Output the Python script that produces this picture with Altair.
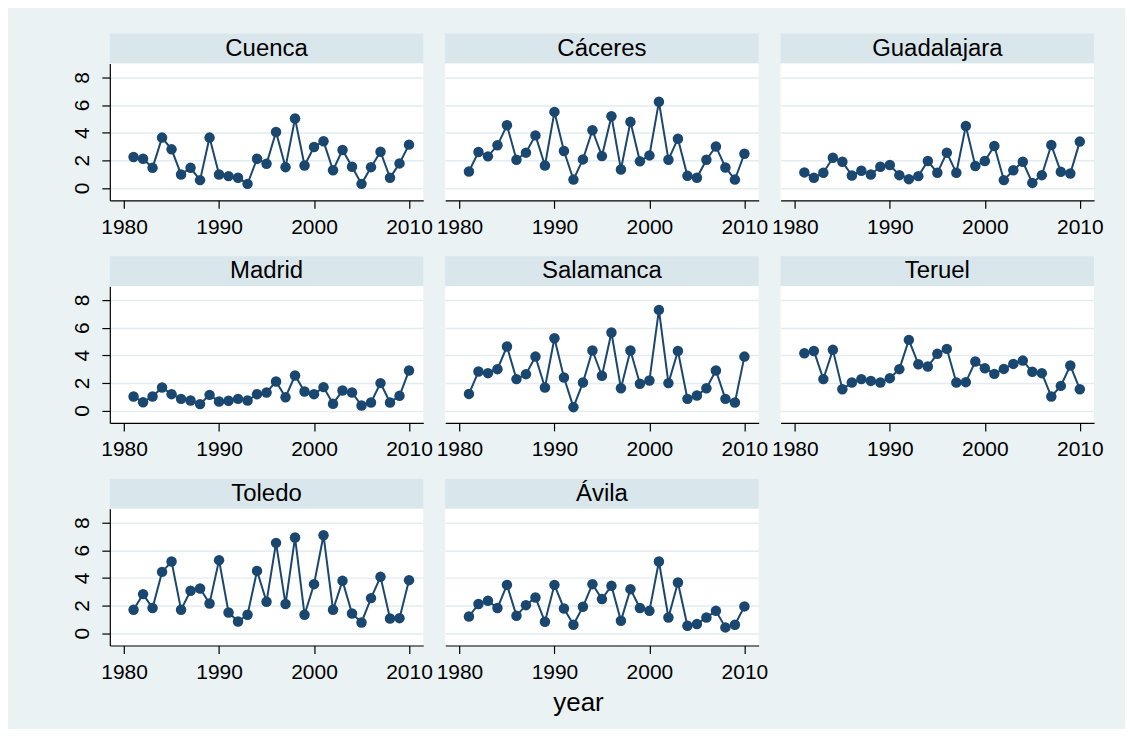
import altair as alt
import pandas as pd

years = list(range(1981, 2011))

cuenca = [2.23, 2.11, 1.45, 3.64, 2.79, 0.97, 1.45, 0.56, 3.64, 0.97,
          0.85, 0.73, 0.29, 2.11, 1.75, 4.05, 1.50, 5.02, 1.62, 2.96,
          3.37, 1.28, 2.74, 1.53, 0.29, 1.50, 2.62, 0.73, 1.77, 3.13]
caceres = [1.19, 2.60, 2.28, 3.08, 4.53, 2.04, 2.55, 3.80, 1.62, 5.50,
           2.67, 0.60, 2.06, 4.17, 2.30, 5.19, 1.33, 4.78, 1.92, 2.35,
           6.23, 2.04, 3.56, 0.87, 0.73, 2.04, 3.00, 1.48, 0.60, 2.47]
guadalajara = [1.12, 0.73, 1.09, 2.18, 1.89, 0.90, 1.24, 0.97, 1.53, 1.65,
               0.92, 0.63, 0.85, 1.94, 1.09, 2.55, 1.09, 4.48, 1.58, 1.94,
               3.03, 0.56, 1.28, 1.89, 0.36, 0.92, 3.10, 1.16, 1.04, 3.35]
madrid = [1.01, 0.60, 1.01, 1.66, 1.18, 0.84, 0.72, 0.46, 1.13, 0.65,
          0.70, 0.84, 0.72, 1.18, 1.30, 2.10, 0.96, 2.53, 1.37, 1.18,
          1.69, 0.48, 1.45, 1.30, 0.36, 0.58, 1.98, 0.58, 1.06, 2.89]
salamanca = [1.20, 2.82, 2.70, 2.99, 4.63, 2.27, 2.63, 3.90, 1.66, 5.23,
             2.39, 0.24, 2.02, 4.34, 2.51, 5.64, 1.61, 4.34, 1.93, 2.17,
             7.28, 1.98, 4.31, 0.84, 1.08, 1.61, 2.89, 0.84, 0.58, 3.90]
teruel = [4.14, 4.31, 2.27, 4.39, 1.54, 2.02, 2.27, 2.14, 2.02, 2.34,
          2.99, 5.11, 3.35, 3.18, 4.10, 4.46, 2.02, 2.05, 3.54, 3.06,
          2.65, 3.01, 3.37, 3.61, 2.80, 2.70, 1.01, 1.78, 3.25, 1.54]
toledo = [1.69, 2.82, 1.81, 4.43, 5.18, 1.69, 3.06, 3.23, 2.14, 5.28,
          1.49, 0.84, 1.33, 4.50, 2.27, 6.53, 2.10, 6.92, 1.33, 3.54,
          7.08, 1.69, 3.78, 1.42, 0.77, 2.53, 4.07, 1.06, 1.08, 3.83]
avila = [1.20, 2.10, 2.34, 1.81, 3.49, 1.25, 2.02, 2.58, 0.82, 3.49,
         1.78, 0.60, 1.90, 3.54, 2.46, 3.42, 0.89, 3.18, 1.81, 1.61,
         5.18, 1.13, 3.66, 0.53, 0.65, 1.13, 1.61, 0.41, 0.60, 1.93]

provinces = ["Cuenca", "Cáceres", "Guadalajara", "Madrid", "Salamanca",
             "Teruel", "Toledo", "Ávila"]
series = [cuenca, caceres, guadalajara, madrid, salamanca, teruel, toledo, avila]

x_ticks = [1980, 1990, 2000, 2010]
y_ticks = [0, 2, 4, 6, 8]

BG = "#EAF2F3"
STRIP = "#D9E6EB"
NAVY = "#1A476F"
GRID = "#E3ECEF"
FONT = "Liberation Sans"
PW, PH, SH = 314, 137, 30


def panel(name, values, first_col):
    df = pd.DataFrame({"year": years, "value": values})
    if first_col:
        yaxis = alt.Axis(values=y_ticks, title=None, labelAngle=-90,
                         labelAlign="center", labelBaseline="bottom",
                         labelPadding=9, tickSize=8, grid=True)
    else:
        yaxis = alt.Axis(values=y_ticks, title=None, labels=False,
                         ticks=False, domain=False, grid=True)
    base = alt.Chart(df).encode(
        x=alt.X("year:Q",
                scale=alt.Scale(domain=[1978.5, 2011.5], nice=False, zero=False),
                axis=alt.Axis(values=x_ticks, format="d", title=None,
                              grid=False, tickSize=8, labelPadding=8,
                              labelFlush=False)),
        y=alt.Y("value:Q",
                scale=alt.Scale(domain=[-0.9, 9.0], nice=False, zero=False),
                axis=yaxis),
    )
    plot = alt.layer(
        base.mark_line(color=NAVY, strokeWidth=2),
        base.mark_circle(color=NAVY, size=110, opacity=1),
    ).properties(width=PW, height=PH,
                 view=alt.ViewBackground(fill="white", stroke=None))
    strip = alt.Chart(pd.DataFrame({"t": [name]})).mark_text(
        font=FONT, fontSize=24, color="black"
    ).encode(text="t:N").properties(
        width=PW, height=SH,
        view=alt.ViewBackground(fill=STRIP, stroke=None))
    return alt.vconcat(strip, plot, spacing=0)


panels = [panel(n, v, i % 3 == 0) for i, (n, v) in enumerate(zip(provinces, series))]
rows = [alt.hconcat(*panels[i:i + 3], spacing=2) for i in range(0, len(panels), 3)]

chart = alt.vconcat(*rows, spacing=19).properties(
    title=alt.TitleParams("year", orient="bottom", anchor="middle",
                          fontSize=26, font=FONT, fontWeight="normal",
                          color="black", offset=8, dx=-9),
    padding={"left": 63, "top": 25, "right": 21, "bottom": 12},
).configure(background=BG).configure_axis(
    labelFont=FONT, labelFontSize=21, labelColor="black",
    domainColor="black", domainWidth=1.2, tickColor="black", tickWidth=1.2,
    gridColor=GRID, gridWidth=1.5,
).configure_view(stroke=None)

chart.save("out.html", embed_options={"renderer": "svg", "actions": False})
